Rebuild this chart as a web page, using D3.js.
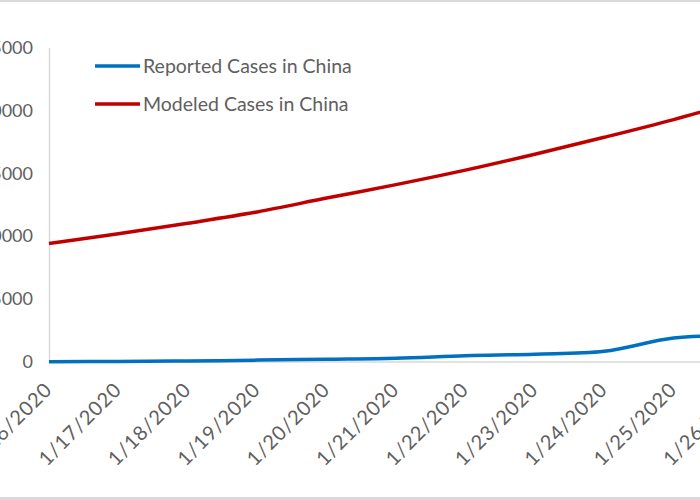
<!DOCTYPE html>
<html><head><meta charset="utf-8">
<script src="https://cdn.jsdelivr.net/npm/d3@7"></script>
<style>body{margin:0;background:#fff}svg{display:block}</style>
</head><body>
<script>
const categories = ["1/16/2020","1/17/2020","1/18/2020","1/19/2020","1/20/2020","1/21/2020","1/22/2020","1/23/2020","1/24/2020","1/25/2020","1/26/2020"];
const reported = [20, 40, 80, 150, 220, 300, 500, 620, 850, 1900, 2100];
const modeled = [9420, 10190, 11030, 11930, 13030, 14100, 15250, 16520, 17860, 19270, 20830];
const yTicks = [0, 5000, 10000, 15000, 20000, 25000];
const seriesNames = ["Reported Cases in China", "Modeled Cases in China"];

const W = 700, H = 500;
const svg = d3.select("body").append("svg").attr("width", W).attr("height", H);
const font = "Lato, 'Open Sans', sans-serif";

const x = d3.scalePoint().domain(categories).range([49, 743]);
const y = d3.scaleLinear().domain([0, 25000]).range([362, 47.5]);

// frame lines
svg.append("rect").attr("x",0).attr("y",0).attr("width",W).attr("height",2).attr("fill","#d9d9d9");
svg.append("rect").attr("x",0).attr("y",497).attr("width",W).attr("height",3).attr("fill","#d9d9d9");

// y axis
const ya = svg.append("g").attr("transform","translate(49,0)")
  .call(d3.axisLeft(y).tickValues(yTicks).tickSize(0).tickPadding(16).tickFormat(d3.format("d")));
ya.select(".domain").attr("stroke","#d9d9d9").attr("stroke-width",1.5);
ya.selectAll("text").attr("font-family",font).attr("font-size",18).attr("fill","#606060");

// x axis
const xa = svg.append("g").attr("transform","translate(0,362)")
  .call(d3.axisBottom(x).tickSize(0).tickPadding(0));
xa.select(".domain").attr("stroke","#d9d9d9").attr("stroke-width",1.5).attr("d","M49,0H700");
xa.selectAll(".tick text")
  .attr("font-family",font).attr("font-size",20).attr("fill","#606060")
  .attr("letter-spacing","0.9px")
  .attr("text-anchor","end").attr("dy","0.35em")
  .attr("transform","translate(-1,24) rotate(-45)").attr("y",0).attr("x",0);

// lines
const line = d3.line().x((d,i)=>x(categories[i])).y(d=>y(d)).curve(d3.curveCatmullRom.alpha(0.5));
svg.append("path").datum(modeled).attr("d",line).attr("fill","none").attr("stroke","#c00000").attr("stroke-width",3.5);
svg.append("path").datum(reported).attr("d",line).attr("fill","none").attr("stroke","#0070c0").attr("stroke-width",3.5);

// legend
const colors = ["#0070c0","#c00000"];
const lg = svg.append("g");
seriesNames.forEach((n,i)=>{
  const yy = 66 + i*38;
  lg.append("line").attr("x1",95).attr("x2",140).attr("y1",yy).attr("y2",yy).attr("stroke",colors[i]).attr("stroke-width",3.5);
  lg.append("text").attr("x",143).attr("y",yy).attr("dy","0.35em").attr("font-family",font).attr("font-size",19.5).attr("fill","#606060").text(n);
});
</script>
</body></html>
